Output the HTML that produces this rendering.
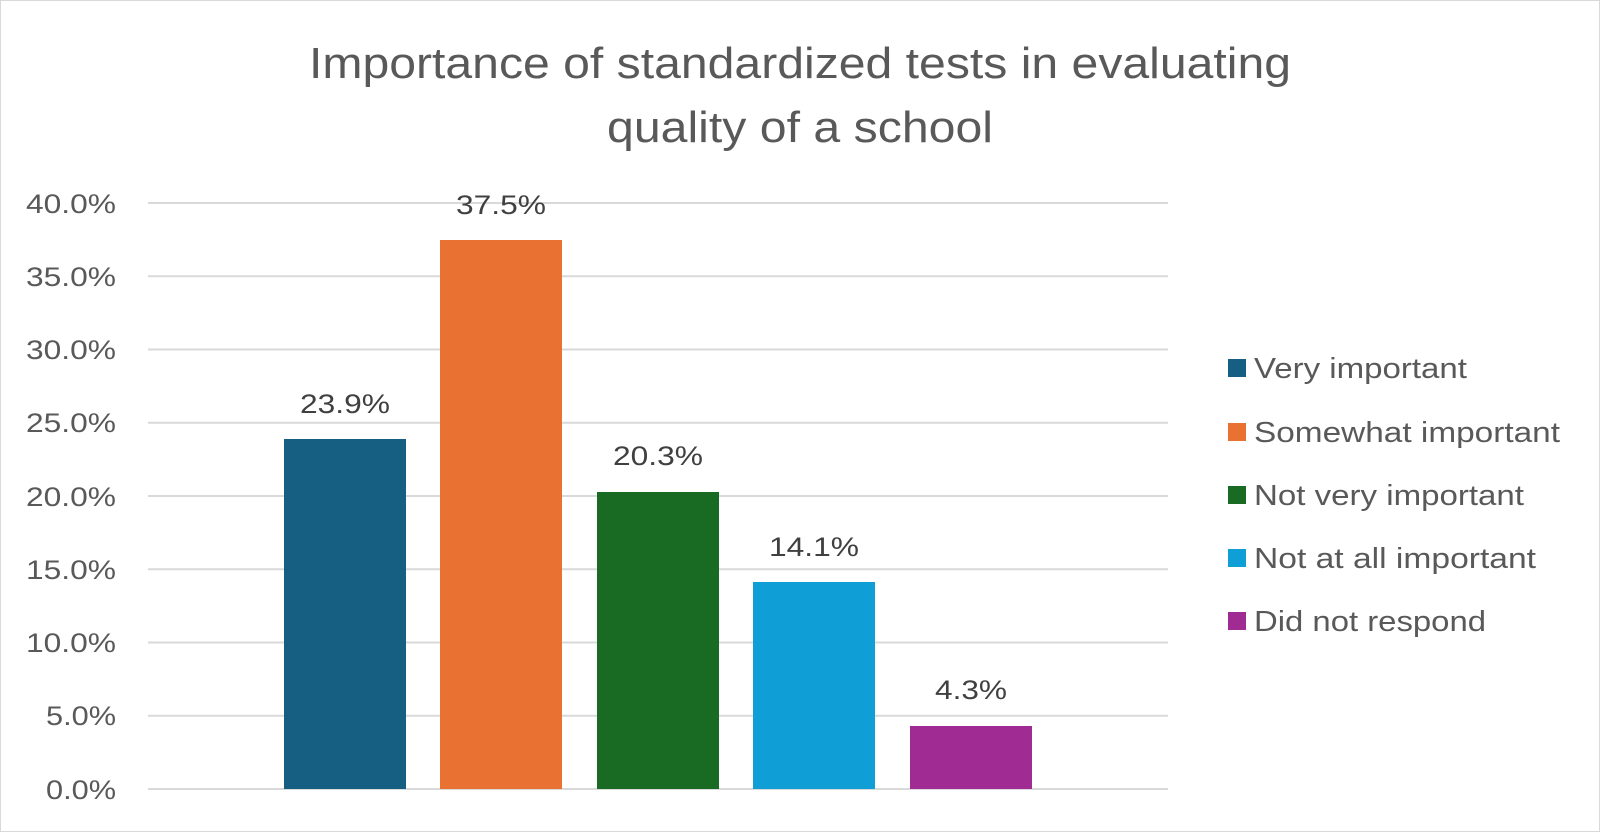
<!DOCTYPE html>
<html><head><style>
body{margin:0;background:#fff;}
svg{display:block;font-family:"Liberation Sans",sans-serif;}
</style></head><body>
<svg width="1600" height="832" viewBox="0 0 1600 832">
<rect x="0.5" y="0.5" width="1599" height="831" fill="#fff" stroke="#d9d9d9"/>
<g font-size="44" fill="#595959" text-anchor="middle" lengthAdjust="spacingAndGlyphs">
<text x="800" y="78" textLength="982" lengthAdjust="spacingAndGlyphs">Importance of standardized tests in evaluating</text>
<text x="800" y="142" textLength="386" lengthAdjust="spacingAndGlyphs">quality of a school</text>
</g>
<g stroke="#d9d9d9" stroke-width="2">
<line x1="148" x2="1168" y1="203" y2="203"/>
<line x1="148" x2="1168" y1="276.2" y2="276.2"/>
<line x1="148" x2="1168" y1="349.5" y2="349.5"/>
<line x1="148" x2="1168" y1="422.7" y2="422.7"/>
<line x1="148" x2="1168" y1="496" y2="496"/>
<line x1="148" x2="1168" y1="569.2" y2="569.2"/>
<line x1="148" x2="1168" y1="642.5" y2="642.5"/>
<line x1="148" x2="1168" y1="715.7" y2="715.7"/>
<line x1="148" x2="1168" y1="789" y2="789"/>
</g>
<g font-size="27" fill="#595959" text-anchor="end">
<text x="116" y="213" textLength="90" lengthAdjust="spacingAndGlyphs">40.0%</text>
<text x="116" y="286" textLength="90" lengthAdjust="spacingAndGlyphs">35.0%</text>
<text x="116" y="359" textLength="90" lengthAdjust="spacingAndGlyphs">30.0%</text>
<text x="116" y="432" textLength="90" lengthAdjust="spacingAndGlyphs">25.0%</text>
<text x="116" y="506" textLength="90" lengthAdjust="spacingAndGlyphs">20.0%</text>
<text x="116" y="579" textLength="90" lengthAdjust="spacingAndGlyphs">15.0%</text>
<text x="116" y="652" textLength="90" lengthAdjust="spacingAndGlyphs">10.0%</text>
<text x="116" y="725" textLength="70" lengthAdjust="spacingAndGlyphs">5.0%</text>
<text x="116" y="799" textLength="70" lengthAdjust="spacingAndGlyphs">0.0%</text>
</g>
<rect x="284" y="439" width="122" height="350" fill="#175f82"/>
<rect x="440" y="240" width="122" height="549" fill="#e97132"/>
<rect x="597" y="492" width="122" height="297" fill="#196b24"/>
<rect x="753" y="582" width="122" height="207" fill="#0f9ed5"/>
<rect x="910" y="726" width="122" height="63" fill="#a02b93"/>
<g font-size="27" fill="#404040" text-anchor="middle">
<text x="345" y="413" textLength="90" lengthAdjust="spacingAndGlyphs">23.9%</text>
<text x="501" y="214" textLength="90" lengthAdjust="spacingAndGlyphs">37.5%</text>
<text x="658" y="465" textLength="90" lengthAdjust="spacingAndGlyphs">20.3%</text>
<text x="814" y="556" textLength="90" lengthAdjust="spacingAndGlyphs">14.1%</text>
<text x="971" y="699" textLength="72" lengthAdjust="spacingAndGlyphs">4.3%</text>
</g>
<g font-size="29" fill="#595959">
<rect x="1228" y="359" width="18" height="18" fill="#175f82"/><text x="1254" y="378" textLength="213" lengthAdjust="spacingAndGlyphs">Very important</text>
<rect x="1228" y="423" width="18" height="18" fill="#e97132"/><text x="1254" y="442" textLength="306" lengthAdjust="spacingAndGlyphs">Somewhat important</text>
<rect x="1228" y="486" width="18" height="18" fill="#196b24"/><text x="1254" y="505" textLength="270" lengthAdjust="spacingAndGlyphs">Not very important</text>
<rect x="1228" y="549" width="18" height="18" fill="#0f9ed5"/><text x="1254" y="568" textLength="282" lengthAdjust="spacingAndGlyphs">Not at all important</text>
<rect x="1228" y="612" width="18" height="18" fill="#a02b93"/><text x="1254" y="631" textLength="232" lengthAdjust="spacingAndGlyphs">Did not respond</text>
</g>
</svg>
</body></html>
